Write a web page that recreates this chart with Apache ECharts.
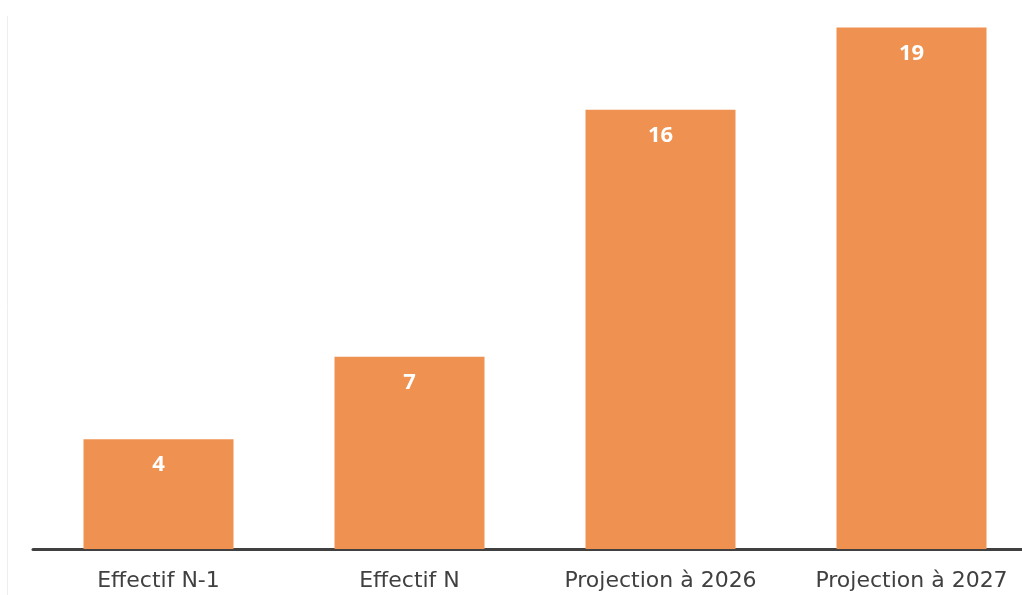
<!DOCTYPE html>
<html>
<head>
<meta charset="utf-8">
<script src="https://cdn.jsdelivr.net/npm/echarts@6/dist/echarts.min.js"></script>
<style>
html,body{margin:0;padding:0;background:#fff;}
#chart{width:1022px;height:595px;}
</style>
</head>
<body>
<div id="chart"></div>
<script>
const categories = ['Effectif N-1', 'Effectif N', 'Projection à 2026', 'Projection à 2027'];
const values = [4, 7, 16, 19];

const chart = echarts.init(document.getElementById('chart'), null, {renderer: 'canvas'});
chart.setOption({
  animation: false,
  backgroundColor: '#ffffff',
  grid: {left: 33, width: 1004, top: 0, bottom: 46, containLabel: false, outerBoundsMode: 'none'},
  graphic: [{
    type: 'line',
    shape: {x1: 7.5, y1: 16, x2: 7.5, y2: 595},
    style: {stroke: '#eeeeee', lineWidth: 1}
  }],
  xAxis: {
    type: 'category',
    data: categories,
    axisLine: {show: true, lineStyle: {color: '#404040', width: 3}},
    axisTick: {show: false},
    axisLabel: {color: '#404040', fontSize: 22, fontFamily: 'DejaVu Sans', margin: 21}
  },
  yAxis: {
    type: 'value',
    min: 0, max: 20,
    show: false,
    splitLine: {show: false}
  },
  series: [{
    type: 'bar',
    data: values,
    barWidth: 150,
    itemStyle: {color: '#EF9150'},
    label: {
      show: true,
      position: 'insideTop',
      distance: 15,
      color: '#ffffff',
      fontWeight: 'bold',
      fontSize: 22,
      fontFamily: 'Open Sans'
    }
  }]
});
</script>
</body>
</html>
